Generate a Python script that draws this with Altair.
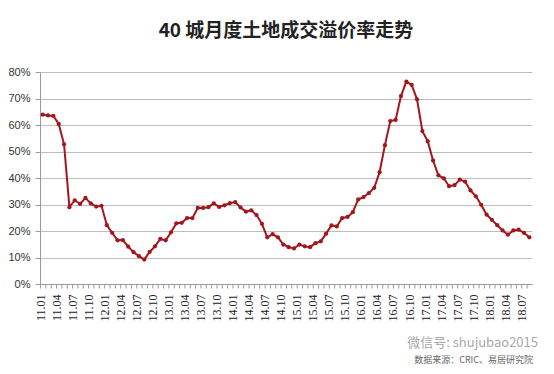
import altair as alt
import pandas as pd

years = ["11", "12", "13", "14", "15", "16", "17", "18"]
months_in_year = ["01", "02", "03", "04", "05", "06", "07", "08", "09", "10", "11", "12"]
months = [f"{y}.{m}" for y in years for m in months_in_year][:92]

premium = [
    63.9, 63.6, 63.4, 60.4, 52.7, 29.0, 31.6, 30.2, 32.5, 30.4, 29.2, 29.5,
    22.2, 19.3, 16.5, 16.6, 14.1, 12.0, 10.5, 9.2, 12.1, 14.2, 17.0, 16.5,
    19.5, 22.9, 23.1, 24.9, 24.9, 28.7, 28.7, 29.0, 30.4, 29.1, 29.7, 30.5,
    30.9, 28.9, 27.3, 27.8, 26.0, 22.7, 17.6, 18.8, 17.6, 14.9, 13.9, 13.4,
    14.9, 14.2, 13.9, 15.4, 16.1, 19.0, 22.1, 21.7, 24.9, 25.3, 27.1, 31.9,
    32.8, 34.3, 36.3, 42.2, 52.4, 61.5, 61.9, 70.9, 76.4, 75.1, 69.7, 57.7,
    53.9, 46.6, 41.0, 39.9, 36.9, 37.3, 39.4, 38.6, 35.3, 33.1, 29.9, 26.2,
    24.2, 22.2, 20.2, 18.6, 20.2, 20.5, 19.3, 17.6,
]

y_ticks = [0, 10, 20, 30, 40, 50, 60, 70, 80]
title_text = "40 城月度土地成交溢价率走势"
watermark_text = ["微信号: shujubao2015"]
source_text = ["数据来源：CRIC、易居研究院"]

df = pd.DataFrame({"month": months, "value": premium})
LINE = "#A3161C"

base = alt.Chart(df).mark_line(
    color=LINE, strokeWidth=2,
    point=alt.OverlayMarkDef(filled=True, size=18, color=LINE),
).encode(
    x=alt.X(
        "month:O", sort=None,
        scale=alt.Scale(type="point", padding=0.5),
        axis=alt.Axis(
            title=None, grid=False, labelAngle=270,
            labelFont="Liberation Serif", labelFontSize=12, labelColor="#222",
            labelPadding=6, labelOverlap=False, tickSize=4, tickOffset=-2.67,
            tickRound=False, tickColor="#9a9a9a", domainColor="#9a9a9a",
            labelExpr="(indexof(['01','04','07','10'], slice(datum.label + '', 3)) >= 0) ? datum.label : ''",
        ),
    ),
    y=alt.Y(
        "value:Q", scale=alt.Scale(domain=[0, 80], nice=False),
        axis=alt.Axis(
            title=None, values=y_ticks, labelExpr="datum.value + '%'",
            grid=True, gridColor="#BDBDBD", gridWidth=1,
            domainColor="#9a9a9a", tickColor="#9a9a9a", tickSize=5,
            labelFont="Liberation Sans", labelFontSize=11, labelColor="#333",
            labelPadding=5,
        ),
    ),
)

wm = alt.Chart(pd.DataFrame({"t": watermark_text})).mark_text(
    align="right", baseline="middle", font="Noto Sans CJK SC",
    fontSize=13, color="#a8a8a8",
).encode(x=alt.value(498), y=alt.value(271), text="t:N")

src = alt.Chart(pd.DataFrame({"t": source_text})).mark_text(
    align="right", baseline="middle", font="Noto Sans CJK SC",
    fontSize=9, color="#666666",
).encode(x=alt.value(493), y=alt.value(288), text="t:N")

chart = alt.layer(base, wm, src).properties(
    width=492, height=212,
    title=alt.TitleParams(
        title_text, font="Noto Sans CJK SC", fontSize=19, fontWeight="bold",
        color="#222", anchor="middle", offset=25,
    ),
    autosize=alt.AutoSizeParams(type="none"),
    padding={"left": 32, "top": 64, "right": 14, "bottom": 82},
).configure_view(stroke=None)

chart.save("out.html", embed_options={"renderer": "svg", "actions": False})
